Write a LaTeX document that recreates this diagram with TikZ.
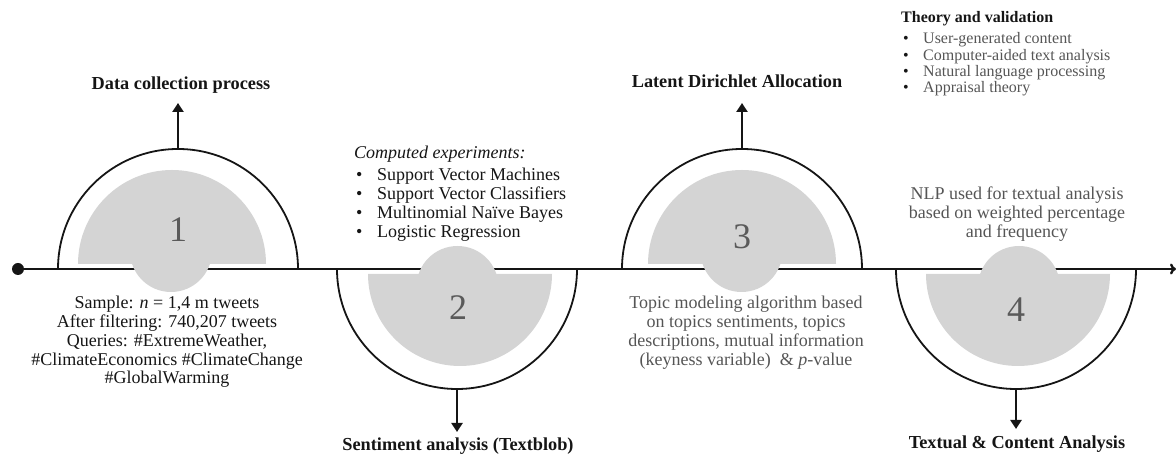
\documentclass[tikz,border=0pt]{standalone}
\usepackage{fontspec}
\setmainfont{Liberation Serif}
\usetikzlibrary{arrows.meta}
\definecolor{fillgray}{HTML}{D4D4D4}
\definecolor{txtgray}{HTML}{555555}
\definecolor{numgray}{HTML}{5A5A5A}
\definecolor{ink}{HTML}{151515}
\begin{document}
\begin{tikzpicture}[x=1pt,y=1pt,
  mainline/.style={line width=2.4pt, draw=ink},
  arcline/.style={line width=1.8pt, draw=ink},
  grayfill/.style={fill=fillgray},
  stagearrow/.style={line width=2.4pt, draw=ink, -{Triangle[width=11pt,length=9pt]}},
  title/.style={font=\fontsize{18.3}{20}\selectfont\bfseries, text=ink, inner sep=0pt},
  desc/.style={font=\fontsize{18}{18.8}\selectfont, text=ink, align=center, inner sep=0pt},
  gdesc/.style={desc, text=txtgray},
  num/.style={font=\fontsize{36}{36}\selectfont, text=numgray, inner sep=0pt}
]
\useasboundingbox (0,0) rectangle (1176,457);

% main timeline
\node[circle, fill=ink, minimum size=12pt, inner sep=0pt] (dot) at (18,188) {};
\coordinate (lineend) at (1176,188);
\draw[mainline, -{To[length=6pt,width=11pt]}] (dot.center) -- (lineend);

% gray shapes
\fill[grayfill] (78,193) arc[start angle=180,end angle=0,radius=94] -- cycle;
\fill[grayfill] (171,206) circle[radius=41];
\fill[grayfill] (368,183) arc[start angle=180,end angle=360,radius=92] -- cycle;
\fill[grayfill] (457.5,170) circle[radius=41];
\fill[grayfill] (648,193) arc[start angle=180,end angle=0,radius=94] -- cycle;
\fill[grayfill] (741.5,206) circle[radius=41];
\fill[grayfill] (926,183) arc[start angle=180,end angle=360,radius=92] -- cycle;
\fill[grayfill] (1019,170) circle[radius=41];

% outer arcs
\draw[arcline] (58,188) arc[start angle=180,end angle=0,radius=120];
\draw[arcline] (337,188) arc[start angle=180,end angle=360,radius=120];
\draw[arcline] (622,188) arc[start angle=180,end angle=0,radius=120];
\draw[arcline] (896,188) arc[start angle=180,end angle=360,radius=120];

\coordinate (top1) at (178,308);
\coordinate (tip1) at (178,354);
\coordinate (bot2) at (457,68);
\coordinate (tip2) at (457,25);
\coordinate (top3) at (742,308);
\coordinate (tip3) at (742,354);
\coordinate (bot4) at (1016,68);
\coordinate (tip4) at (1016,28);

% numbers
\node[num] (n1) at (178,227) {1};
\node[num] (n2) at (458,149) {2};
\node[num] (n3) at (742,220) {3};
\node[num] (n4) at (1016,147) {4};

% titles
\node[title] (t1) at (181,372) {Data collection process};
\node[title] (t2) at (458,11) {Sentiment analysis (Textblob)};
\node[title] (t3) at (737,376) {Latent Dirichlet Allocation};
\node[title] (t4) at (1017,13) {Textual \& Content Analysis};

\draw[stagearrow] (top1) -- (tip1);
\draw[stagearrow] (bot2) -- (tip2);
\draw[stagearrow] (top3) -- (tip3);
\draw[stagearrow] (bot4) -- (tip4);

% descriptions
\node[desc, anchor=north] (d1) at (167,161) {Sample: \textit{n} = 1,4 m tweets\\After filtering: 740,207 tweets\\Queries: \#ExtremeWeather,\\\#ClimateEconomics \#ClimateChange\\\#GlobalWarming};

\node[desc, align=left, anchor=north west] (d2) at (354,311) {\textit{Computed experiments:}\\[3.5pt]
\hspace*{2pt}\makebox[21pt][l]{\textbullet}Support Vector Machines\\
\hspace*{2pt}\makebox[21pt][l]{\textbullet}Support Vector Classifiers\\
\hspace*{2pt}\makebox[21pt][l]{\textbullet}Multinomial Naïve Bayes\\
\hspace*{2pt}\makebox[21pt][l]{\textbullet}Logistic Regression};

\node[gdesc, anchor=north] (d3) at (746,161) {Topic modeling algorithm based\\on topics sentiments, topics\\descriptions, mutual information\\(keyness variable)\ \ \& \textit{p}-value};

\node[gdesc, anchor=north] (d4) at (1017,270) {NLP used for textual analysis\\based on weighted percentage\\and frequency};

\node[anchor=north west, align=left, inner sep=0pt, font=\fontsize{16}{16.4}\selectfont, text=txtgray] (theory) at (901,446) {\textcolor{ink}{\bfseries Theory and validation}\\[5pt]
\hspace*{2pt}{\color{ink}\makebox[20pt][l]{\textbullet}}User-generated content\\
\hspace*{2pt}{\color{ink}\makebox[20pt][l]{\textbullet}}Computer-aided text analysis\\
\hspace*{2pt}{\color{ink}\makebox[20pt][l]{\textbullet}}Natural language processing\\
\hspace*{2pt}{\color{ink}\makebox[20pt][l]{\textbullet}}Appraisal theory};
\end{tikzpicture}
\end{document}
